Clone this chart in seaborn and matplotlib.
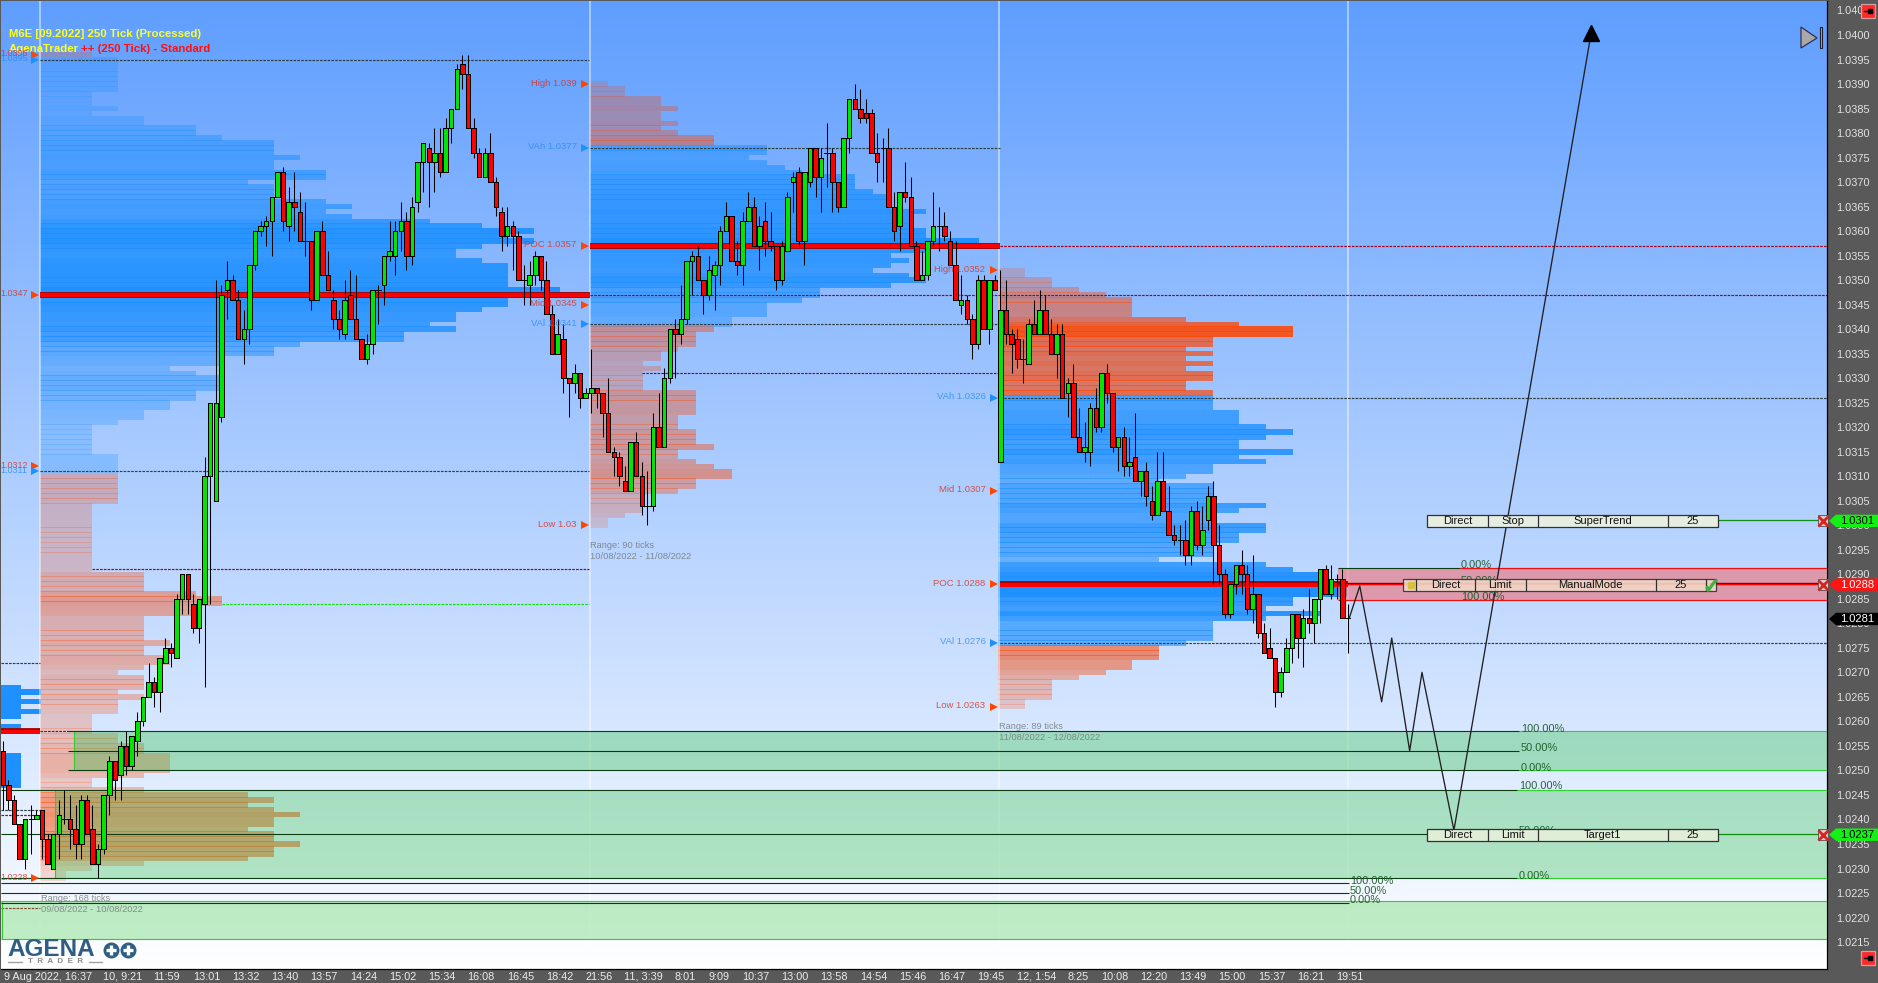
import numpy as np
import pandas as pd
import matplotlib
matplotlib.use("Agg")
import matplotlib.pyplot as plt
from matplotlib.colors import LinearSegmentedColormap
from matplotlib.patches import Rectangle, Polygon
import seaborn as sns

# ===============================
# DATA (prices are in pips, 347 = 1.0347)
# ===============================

opens = [254,247,244,239,232,240,240,242,236,230,237,240,240,238,235,244,238,231,234,245,
         252,249,255,251,256,260,265,268,266,272,275,273,285,290,284,279,284,310,305,322,
         348,350,346,338,340,353,360,361,362,367,372,361,366,364,358,358,346,360,351,346,
         342,339,347,342,338,334,337,348,349,355,355,360,362,355,366,374,377,374,376,372,
         381,385,394,392,381,376,371,376,370,364,359,361,359,350,349,351,355,350,343,335,
         338,330,329,331,326,327,328,327,323,315,314,309,307,317,310,304,304,320,316,330,
         340,339,342,354,355,350,347,351,353,360,363,354,353,362,365,357,362,358,357,350,
         356,370,372,358,370,377,371,376,376,370,365,379,387,385,384,384,376,377,377,365,
         361,368,367,357,350,351,358,361,361,358,353,345,346,342,337,350,340,350,313,344,
         339,338,334,333,341,339,344,339,335,339,327,329,318,315,315,324,320,331,327,316,
         318,312,314,309,311,305,302,309,303,298,297,297,294,303,296,301,306,296,290,282,
         288,292,290,283,286,278,275,273,266,270,275,282,277,281,280,285,291,286,289,289,
         281]
highs = [256,248,245,239,240,243,242,242,237,237,244,246,245,243,245,245,243,235,245,253,
         252,256,258,257,262,265,272,269,273,277,276,286,290,290,286,285,314,325,350,349,
         354,351,348,344,353,360,362,363,367,372,373,369,372,368,366,358,360,362,356,348,
         344,350,352,351,338,339,348,349,355,362,362,366,364,367,374,378,378,381,381,383,
         385,394,396,396,383,377,377,380,371,365,365,362,360,353,354,356,355,354,345,342,
         341,330,333,331,328,336,328,327,330,316,315,312,317,319,313,311,323,327,332,340,
         342,349,354,356,357,350,355,354,361,366,363,358,364,368,367,363,366,364,357,358,
         368,372,373,372,377,377,377,382,377,370,379,387,390,389,387,385,380,379,381,368,
         368,374,371,358,356,358,368,365,364,360,358,351,347,343,351,351,350,351,352,350,
         340,340,338,342,346,348,347,342,341,341,330,333,324,321,325,328,331,333,327,318,
         320,318,323,311,313,308,315,315,308,300,300,301,304,305,304,308,309,300,291,288,
         292,295,292,294,286,280,279,273,271,277,282,282,283,287,285,291,292,292,290,291,
         284]
lows = [242,242,239,232,230,233,240,232,231,230,232,239,234,232,232,237,231,228,233,241,
        244,244,249,250,253,259,265,263,262,272,271,273,282,282,278,276,267,284,305,321,
        342,346,338,333,337,352,359,357,355,367,360,358,360,358,355,344,346,351,348,340,
        338,338,342,338,334,333,335,341,345,354,351,356,352,353,364,368,365,368,371,372,
        378,385,389,381,375,371,371,370,363,356,357,352,350,345,345,349,348,343,335,335,
        327,322,327,324,326,323,324,318,315,310,308,307,307,310,302,300,303,316,316,329,
        330,337,341,347,350,343,346,344,349,360,354,351,349,362,357,352,355,356,348,349,
        356,364,357,353,369,367,364,369,364,364,365,376,385,382,382,376,370,370,365,358,
        356,366,357,350,350,350,357,356,358,353,346,343,341,334,336,340,337,348,313,337,
        331,332,329,333,339,339,339,335,330,326,322,318,315,313,312,319,319,325,315,311,
        310,310,309,306,304,301,302,303,298,296,294,292,292,295,294,299,288,288,281,281,
        286,286,282,280,277,274,273,263,265,270,272,273,271,278,276,280,286,285,285,281,
        274]
closes = [247,244,239,232,240,240,241,236,231,237,241,240,238,235,244,237,231,234,245,252,
          248,255,251,257,260,265,268,266,273,275,274,285,290,285,279,285,310,325,325,347,
          350,346,338,340,353,360,361,362,367,372,362,366,365,358,358,346,360,351,348,342,
          340,346,342,338,334,337,348,348,355,356,360,362,355,365,374,378,374,376,372,381,
          385,393,392,381,376,371,376,370,365,359,361,359,350,350,351,355,350,343,335,339,
          330,329,331,326,327,328,327,323,315,314,310,307,317,310,304,304,320,316,330,340,
          339,342,354,355,350,347,352,353,360,363,354,353,362,365,357,361,358,357,350,357,
          367,371,358,372,377,371,375,376,370,365,379,387,385,383,383,376,374,377,365,360,
          368,367,357,350,351,358,361,361,359,353,346,346,342,337,350,340,350,348,344,339,
          337,334,334,341,339,344,339,335,339,326,329,318,315,316,324,320,331,327,316,318,
          312,313,309,311,306,302,309,303,298,297,297,294,303,296,299,306,296,290,282,288,
          292,290,283,286,278,274,273,266,270,275,282,277,281,280,285,291,286,289,289,281,
          281]

# volume profiles, one count per price row from the top price downwards
profile1_top = 396
profile1_counts = [2,3,3,3,3,3,3,3,2,2,2,3,2,4,4,6,6,7,9,9,9,10,9,9,11,11,8,9,9,9,11,12,11,12,
                   15,17,19,18,19,17,16,16,17,18,18,18,18,18,20,21,18,18,17,16,16,15,16,14,14,
                   10,9,9,7,7,5,6,7,7,7,6,6,5,5,4,4,3,2,2,2,2,2,2,3,3,3,3,
                   3,3,3,3,3,3,2,2,2,2,2,2,2,2,2,2,2,2,2,2,4,4,4,4,6,7,7,6,6,4,4,4,4,4,5,4,4,
                   5,5,4,3,4,4,4,3,4,3,3,3,2,2,2,2,3,3,4,4,5,5,5,5,4,2,2,4,8,9,8,9,10,9,9,8,9,
                   9,10,9,9,8,4,2,1,1]
profile2_top = 390
profile2_counts = [1,2,2,4,4,5,4,4,5,4,5,7,7,10,10,9,10,11,12,15,15,15,16,17,17,17,19,18,18,18,
                   19,19,22,23,19,17,18,17,16,18,19,17,13,13,12,10,10,10,8,8,
                   7,6,6,6,5,4,4,3,4,3,3,3,3,6,6,6,6,6,5,5,5,6,6,6,7,5,5,6,7,8,8,6,6,5,3,3,3,3,2,1,1]
profile3_top = 352
profile3_counts = [1,1,2,2,3,4,5,5,5,5,7,9,11,11,8,8,7,8,7,8,7,8,8,7,7,8,
                   8,8,8,9,9,9,10,11,10,9,9,11,9,10,8,8,7,6,8,8,8,8,10,9,8,8,10,10,9,9,8,8,8,6,
                   10,11,12,12,13,13,13,11,11,10,12,10,8,8,8,8,7,
                   6,6,6,5,5,4,3,2,2,2,2,1,1]
session_vah = [395, 377, 326]
session_val = [311, 341, 276]
session_poc = [347, 357, 288]

prev_rows = [267,266,265,264,263,262,261,259,253,252,251,250,249,248,247]
prev_counts = [1,2,1,2,1,2,1,1,1,1,1,1,1,1,1]

# zig-zag of the drawn projection
projection_bars = [240.2, 242.1, 246.0, 247.8, 251.0, 253.2, 258.9, 283.4]
projection_pips = [281, 287.6, 264, 277, 254, 270, 237.8, 400.5]

y_ticks = [1.0405,1.0400,1.0395,1.0390,1.0385,1.0380,1.0375,1.0370,1.0365,1.0360,1.0355,1.0350,1.0345,
           1.0340,1.0335,1.0330,1.0325,1.0320,1.0315,1.0310,1.0305,1.0300,1.0295,1.0290,1.0285,1.0280,
           1.0275,1.0270,1.0265,1.0260,1.0255,1.0250,1.0245,1.0240,1.0235,1.0230,1.0225,1.0220,1.0215]

x_ticks = [0,18,27,34,41,48,55,62,69,76,83,90,97,104,111,120,126,132,139,146,153,160,167,174,181,
           190,196,203,210,217,224,231,238]
x_labels = ["9 Aug 2022, 16:37","10, 9:21","11:59","13:01","13:32","13:40","13:57","14:24","15:02",
            "15:34","16:08","16:45","18:42","21:56","11, 3:39","8:01","9:09","10:37","13:00","13:58",
            "14:54","15:46","16:47","19:45","12, 1:54","8:25","10:08","12:20","13:49","15:00","15:37",
            "16:21","19:51"]

session1_tags = ["1.0396","1.0395","1.0347","1.0312","1.0311","1.0228"]
session1_tag_pips = [396,395,347,312,311,228]
session2_tags = ["High 1.039","VAh 1.0377","POC 1.0357","Mid 1.0345","VAl 1.0341","Low 1.03"]
session2_tag_pips = [390,377,357,345,341,300]
session3_tags = ["High 1.0352","VAh 1.0326","Mid 1.0307","POC 1.0288","VAl 1.0276","Low 1.0263"]
session3_tag_pips = [352,326,307,288,276,263]

# ===============================
# LAYOUT HELPERS
# ===============================

W, H = 1878, 983
PLOT_L, PLOT_R, PLOT_T, PLOT_B = 1, 1827, 1, 969
BAR0, BAR_W = 2.8, 5.605
PIP_PX = 4.903


def bar_at(px):
    return (px - BAR0) / BAR_W


def pip_y(pips):
    return 35 + (400 - pips) * PIP_PX


def price(pips):
    return 1 + np.asarray(pips, dtype=float) / 10000


sns.set_theme(style="white")
plt.rcParams['font.family'] = ['Liberation Sans', 'DejaVu Sans']

fig = plt.figure(figsize=(W / 100, H / 100), dpi=100, facecolor="#595959")
ax = fig.add_axes([PLOT_L / W, 1 - PLOT_B / H, (PLOT_R - PLOT_L) / W, (PLOT_B - PLOT_T) / H])

x_lim = (bar_at(PLOT_L), bar_at(PLOT_R))
y_lim = (1 + (400 - (PLOT_B - 35) / PIP_PX) / 10000, 1 + (400 - (PLOT_T - 35) / PIP_PX) / 10000)

# background gradient
cmap = LinearSegmentedColormap.from_list("bg", ["#5f9eff", "#ffffff"])
ax.imshow(np.linspace(0, 1, 256).reshape(-1, 1), cmap=cmap, aspect="auto",
          extent=(x_lim[0], x_lim[1], y_lim[0], y_lim[1]), origin="upper", zorder=0)


# ===============================
# VOLUME PROFILES
# ===============================

def draw_profile(top, counts, start_px, unit_px, vah, val):
    max_count = max(counts)
    for k, count in enumerate(counts):
        row = top - k
        colour = "#1e90ff" if val <= row <= vah else "#ff4500"
        ax.barh(price(row), count * unit_px / BAR_W, height=0.000112, left=bar_at(start_px),
                color=colour, alpha=0.14 + 0.86 * count / max_count, linewidth=0,
                antialiased=False, zorder=2)


draw_profile(profile1_top, profile1_counts, 40, 26.0, session_vah[0], session_val[0])
draw_profile(profile2_top, profile2_counts, 590, 17.7, session_vah[1], session_val[1])
draw_profile(profile3_top, profile3_counts, 998.3, 26.8, session_vah[2], session_val[2])

ax.barh(price(prev_rows), np.array(prev_counts) * 20 / BAR_W, height=0.000105, left=bar_at(1),
        color="#1e90ff", linewidth=0, antialiased=False, zorder=2)

for px in [40, 590, 999, 1348]:
    ax.axvline(bar_at(px), color="white", alpha=0.45, lw=1.4, zorder=2)

# ===============================
# DASHED LEVELS
# ===============================

DARK = "#2f3f3f"
WINE = "#a00018"
dashed = [
    (395, 40, 589, DARK), (311, 40, 589, DARK), (291, 92, 589, WINE), (284, 222, 589, "#10e010"),
    (272, 1, 40, DARK), (258, 40, 70, WINE), (242, 1, 40, DARK), (241, 1, 40, WINE), (222, 1, 40, WINE),
    (377, 590, 1000, DARK), (341, 590, 1000, DARK), (331, 642, 998, WINE),
    (357, 1000, 1827, WINE), (347, 590, 1827, WINE),
    (326, 1000, 1827, DARK), (276, 1000, 1827, DARK),
]
for pips, x0, x1, colour in dashed:
    ax.hlines(price(pips), bar_at(x0), bar_at(x1), colors=colour, lw=0.85,
              linestyles=(0, (2.2, 1.0)), zorder=3)

# ===============================
# ZONES
# ===============================

ax.add_patch(Rectangle((bar_at(74), price(250)), bar_at(1827) - bar_at(74), price(258) - price(250),
                       facecolor="#35c250", alpha=0.36, lw=0, zorder=4))
ax.add_patch(Rectangle((bar_at(55), price(228)), bar_at(1827) - bar_at(55), price(246) - price(228),
                       facecolor="#35c250", alpha=0.34, lw=0, zorder=4))
ax.add_patch(Rectangle((bar_at(1), price(215.7)), bar_at(1827) - bar_at(1), price(223.3) - price(215.7),
                       facecolor="#52d256", alpha=0.35, lw=0, zorder=4))
ax.add_patch(Rectangle((bar_at(1338), price(284.7)), bar_at(1827) - bar_at(1338), price(291.2) - price(284.7),
                       facecolor="#f96061", alpha=0.52, lw=0, zorder=4))

LIME = "#2fcf2f"
for pips in [258, 250]:
    ax.hlines(price(pips), bar_at(1519), bar_at(1827), colors=LIME, lw=0.8, zorder=6)
for pips in [246, 228]:
    ax.hlines(price(pips), bar_at(1517), bar_at(1827), colors=LIME, lw=0.8, zorder=6)
for pips in [223.3, 215.7]:
    ax.hlines(price(pips), bar_at(1), bar_at(1827), colors=LIME, lw=0.8, zorder=6)
ax.vlines(bar_at(74), price(250), price(258), colors=LIME, lw=0.8, zorder=6)
ax.vlines(bar_at(55), price(228), price(246), colors=LIME, lw=0.8, zorder=6)
ax.vlines(bar_at(2), price(215.7), price(223.3), colors=LIME, lw=0.8, zorder=6)

zone_dark = [(258, 68, 1519), (254, 68, 1519), (250, 68, 1519), (246, 1, 1517), (237, 1, 1517),
             (228, 1, 1517), (227, 1, 1349), (225, 1, 1349), (223, 1, 1349), (291.2, 1338, 1460)]
for pips, x0, x1 in zone_dark:
    ax.hlines(price(pips), bar_at(x0), bar_at(x1), colors="#0b3d12", lw=0.8, zorder=6)
ax.hlines(price(291.2), bar_at(1460), bar_at(1827), colors="#f01010", lw=0.9, zorder=6)
ax.hlines(price(284.7), bar_at(1338), bar_at(1827), colors="#f01010", lw=0.9, zorder=6)
ax.hlines(price(288), bar_at(1338), bar_at(1827), colors="#800000", lw=1.7, zorder=6)
ax.hlines(price(288), bar_at(1338), bar_at(1827), colors="#ff0000", lw=0.8, zorder=6)
ax.hlines(price(301), bar_at(1718), bar_at(1827), colors="#109010", lw=0.9, zorder=6)
ax.hlines(price(237), bar_at(1718), bar_at(1827), colors="#109010", lw=0.9, zorder=6)

# point of control lines
for pips, x0, x1 in [(session_poc[0], 40, 590), (session_poc[1], 590, 1000), (session_poc[2], 1000, 1348),
                     (258, 1, 40)]:
    ax.hlines(price(pips), bar_at(x0), bar_at(x1), colors="#a80000", lw=4.2, zorder=5)
    ax.hlines(price(pips - 0.1), bar_at(x0), bar_at(x1), colors="#ff0000", lw=2.8, zorder=5)

# ===============================
# CANDLES
# ===============================

candles = pd.DataFrame({"open": price(opens), "high": price(highs), "low": price(lows), "close": price(closes)})
candles["bar"] = candles.index
up = candles["close"] > candles["open"]

ax.vlines(candles["bar"], candles["low"], candles["high"], colors="black", lw=0.75, zorder=7)
ax.bar(candles["bar"], (candles["close"] - candles["open"]).abs(), bottom=candles[["open", "close"]].min(axis=1),
       width=0.8, color=np.where(up, "#00e600", "#ff0000"), edgecolor="black", linewidth=0.72,
       antialiased=False, zorder=8)

# projected path
sns.lineplot(x=projection_bars, y=price(projection_pips), ax=ax, sort=False, estimator=None,
             color="#202020", lw=0.95, zorder=9)
ax.plot(projection_bars[-1], price(projection_pips[-1]), marker="^", ms=11, color="black", zorder=9)

# ===============================
# AXES
# ===============================

ax.set_xlim(*x_lim)
ax.set_ylim(*y_lim)
ax.set_xlabel("")
ax.set_ylabel("")
ax.grid(False)
for side in ax.spines.values():
    side.set_color("black")
    side.set_linewidth(0.9)
ax.spines["top"].set_visible(False)
ax.spines["left"].set_visible(False)

ax.yaxis.tick_right()
ax.set_yticks(y_ticks)
ax.set_yticklabels(["%.4f" % t for t in y_ticks])
ax.tick_params(axis="y", length=0, pad=6.5, labelsize=7.9, labelcolor="#e2e2e2")

# tick separators sit just left of the labelled candle
ax.set_xticks(np.maximum(np.array(x_ticks) - 0.45, bar_at(1.5)))
ax.set_xticklabels(x_labels, ha="left", va="baseline")
ax.tick_params(axis="x", direction="out", length=10, width=0.9, color="black", pad=-2.1,
               labelsize=7.8, labelcolor="#ececec")
for label in ax.get_xticklabels():
    label.set_va("baseline")
    label.set_transform(label.get_transform() + matplotlib.transforms.ScaledTranslation(2 / 100, 0, fig.dpi_scale_trans))

# ===============================
# OVERLAY IN PIXEL COORDINATES
# ===============================

chrome = fig.add_axes([0, 0, 1, 1], facecolor="none")
chrome.set_xlim(0, W)
chrome.set_ylim(H, 0)
chrome.axis("off")

chrome.text(9, 34, "M6E [09.2022] 250 Tick (Processed)", color="#ffff20", fontsize=8.2, fontweight="bold",
            va="center", ha="left")
chrome.text(9, 49.5, "AgenaTrader", color="#ffff20", fontsize=8.2, fontweight="bold", va="center", ha="left")
chrome.text(81, 49.5, "++ (250 Tick) - Standard", color="#ff1010", fontsize=8.2, fontweight="bold",
            va="center", ha="left")


def draw_tags(tags, tag_pips, text_px, arrow_px, size):
    for tag, pips in zip(tags, tag_pips):
        blue = tag.startswith("VA") or tag in ("1.0395", "1.0311")
        colour = "#2a8cf0" if blue else "#d8301c"
        chrome.text(text_px, pip_y(pips) - 1, tag, color=colour, alpha=0.8, fontsize=size, ha="right", va="center")
        chrome.plot(arrow_px, pip_y(pips), marker=">", ms=6.2, mew=0,
                    color="#1e90ff" if blue else "#ff4500", zorder=3)


draw_tags(session1_tags, session1_tag_pips, 27.5, 35, 6.5)
draw_tags(session2_tags, session2_tag_pips, 576.5, 584.5, 6.8)
draw_tags(session3_tags, session3_tag_pips, 985.5, 993.7, 6.8)

range_texts = [(41, 898.5, "Range: 168 ticks"), (41, 909.5, "09/08/2022 - 10/08/2022"),
               (590, 545.5, "Range: 90 ticks"), (590, 556.5, "10/08/2022 - 11/08/2022"),
               (999, 726.5, "Range: 89 ticks"), (999, 737.5, "11/08/2022 - 12/08/2022")]
for x, y, s in range_texts:
    chrome.text(x, y, s, color="#707878", alpha=0.8, fontsize=6.7, ha="left", va="center")

percent_labels = [(1461, 291.9, "0.00%"), (1461, 288.7, "50.00%"), (1461, 285.4, "100.00%"),
                  (1521, 258.5, "100.00%"), (1521, 254.5, "50.00%"), (1521, 250.5, "0.00%"),
                  (1519, 246.8, "100.00%"), (1519, 237.6, "50.00%"), (1519, 228.5, "0.00%"),
                  (1350, 227.5, "100.00%"), (1350, 225.5, "50.00%"), (1350, 223.5, "0.00%")]
for x, pips, s in percent_labels:
    chrome.text(x, pip_y(pips), s, color="#14561f", alpha=0.9, fontsize=7.9, ha="left", va="center")


def order_row(pips, edges, texts, face="#e6eee2", alpha=1.0):
    y = pip_y(pips) + 0.6
    chrome.add_patch(Rectangle((edges[0], y - 5.8), edges[-1] - edges[0], 11.6, facecolor=face, alpha=alpha,
                               edgecolor="#303030", lw=0.9, zorder=5))
    for e in edges[1:-1]:
        chrome.plot([e, e], [y - 5.8, y + 5.8], color="#303030", lw=0.9, zorder=6)
    for a, b, s in zip(edges[:-1], edges[1:], texts):
        chrome.text((a + b) / 2, y, s, color="#111111", fontsize=8.0, ha="center", va="center", zorder=7)


order_row(301, [1427, 1487.5, 1538, 1667.5, 1718], ["Direct", "Stop", "SuperTrend", "25"])
order_row(288, [1403, 1416, 1475, 1525.5, 1655.5, 1705.5, 1716], ["", "Direct", "Limit", "ManualMode", "25", ""],
          face="#f0d8c8", alpha=0.9)
order_row(237, [1427, 1487.5, 1538, 1667.5, 1718], ["Direct", "Limit", "Target1", "25"], face="#e0eed8")
chrome.plot(1410.5, pip_y(288) + 0.6, marker="s", ms=5, color="#d8c040", zorder=8)
chrome.plot(1710.5, pip_y(288) + 0.6, marker="$\\checkmark$", ms=8, color="#40b040", zorder=8)

# price flags on the axis
flags = [(301, "1.0301", "#14f014", "black"), (288, "1.0288", "#ff1414", "white"),
         (281, "1.0281", "black", "white"), (237, "1.0237", "#14f014", "black")]
for pips, s, face, ink in flags:
    y = pip_y(pips) + 0.5
    chrome.add_patch(Polygon([(1829, y), (1836, y - 6.2), (1878, y - 6.2), (1878, y + 6.2), (1836, y + 6.2)],
                             closed=True, facecolor=face, edgecolor="none", zorder=9))
    chrome.text(1857, y, s, color=ink, fontsize=8, ha="center", va="center", zorder=10)
    if pips != 281:
        chrome.add_patch(Rectangle((1818, y - 5.5), 10, 11, facecolor="#d8d0c8", edgecolor="#505050", lw=0.6, zorder=9))
        chrome.plot(1823, y, marker="x", ms=7, mew=2, color="#e02020", zorder=10)

# chart corner buttons
for x, y in [(1860.5, 3.5), (1861, 951)]:
    chrome.add_patch(Rectangle((x, y), 14, 14, facecolor="#ff2a2a", edgecolor="#d0a0a0", lw=0.9, zorder=9))
    chrome.plot([x + 3, x + 11], [y + 7, y + 7], color="black", lw=1, zorder=10)
    chrome.plot(x + 9, y + 7, marker="s", ms=3.5, color="black", zorder=10)

chrome.add_patch(Polygon([(1801, 27), (1801, 48), (1817, 38)], closed=True, facecolor="#a8a8a8",
                         edgecolor="#303050", lw=0.9, zorder=9))
chrome.add_patch(Rectangle((1819.5, 27), 2.5, 21, facecolor="#a8a8a8", edgecolor="#202030", lw=0.8, zorder=9))

# logo
chrome.text(7, 950, "AGENA", color="#2f5d85", fontsize=17.5, fontweight="bold", ha="left", va="center", zorder=9)
for cx in [111, 128]:
    chrome.plot(cx, 950, marker="o", ms=11.5, mew=0, color="#2f5d85", zorder=9)
    chrome.plot(cx, 950, marker="+", ms=7.5, mew=2.4, color="white", zorder=10)
chrome.text(55.5, 961.5, "T  R  A  D  E  R", color="#8c8c8c", fontsize=5.8, ha="center", va="center",
            fontweight="bold", zorder=9)
chrome.plot([8, 22], [961.5, 961.5], color="#a0a0a0", lw=1, zorder=9)
chrome.plot([89, 102], [961.5, 961.5], color="#a0a0a0", lw=1, zorder=9)

fig.savefig("out.png", dpi=100, facecolor=fig.get_facecolor())
